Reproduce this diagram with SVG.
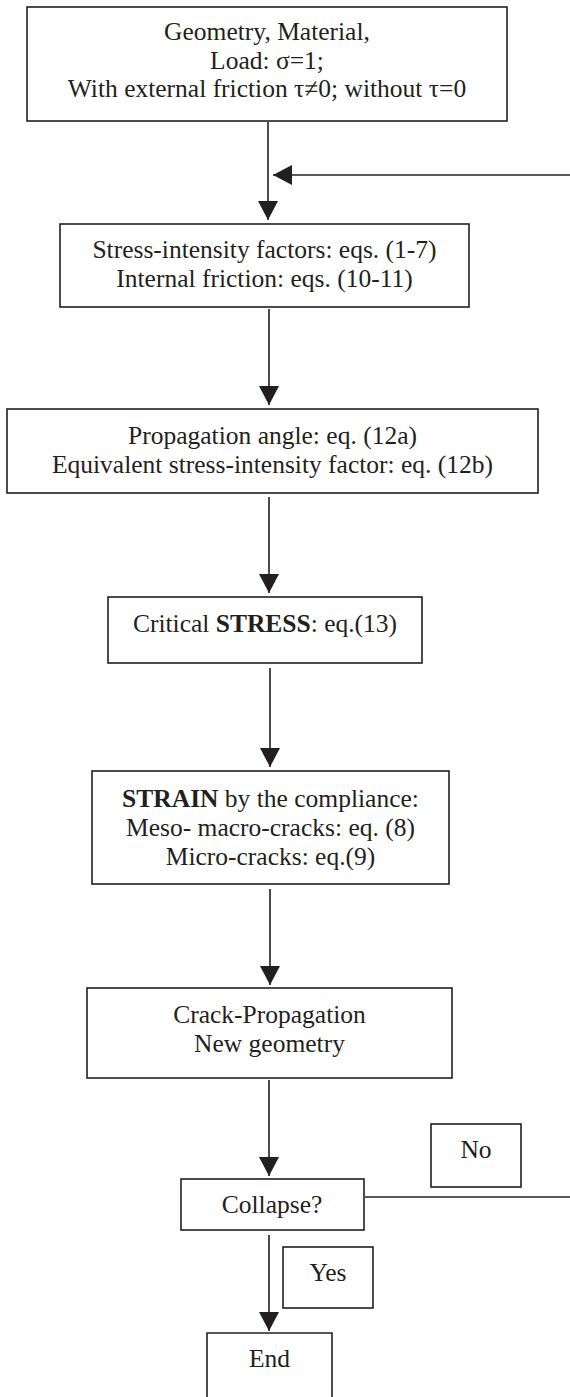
<svg xmlns="http://www.w3.org/2000/svg" width="570" height="1397" viewBox="0 0 570 1397">
<style>
.box{fill:#fff;stroke:#231f20;stroke-width:1.6}
.t{font-family:"Liberation Serif","Times New Roman",serif;font-size:25.5px;fill:#231f20;text-anchor:middle}
.b{font-weight:bold}
.ln{fill:none;stroke:#231f20;stroke-width:1.6}
</style>
<defs>
<marker id="ah" markerUnits="userSpaceOnUse" markerWidth="20" markerHeight="20" refX="19" refY="10" orient="auto">
<path d="M0,0 L19,10 L0,20 z" fill="#231f20"/>
</marker>
</defs>
<rect width="570" height="1397" fill="#fff"/>
<g id="connectors">
<path class="ln" d="M268,122 V220" marker-end="url(#ah)"/>
<path class="ln" d="M570,175 H273" marker-end="url(#ah)"/>
<path class="ln" d="M269,309 V405" marker-end="url(#ah)"/>
<path class="ln" d="M269,497 V593" marker-end="url(#ah)"/>
<path class="ln" d="M270,668 V767" marker-end="url(#ah)"/>
<path class="ln" d="M270,889 V985" marker-end="url(#ah)"/>
<path class="ln" d="M269,1080 V1176" marker-end="url(#ah)"/>
<path class="ln" d="M365,1197 H570"/>
<path class="ln" d="M269,1235 V1331" marker-end="url(#ah)"/>
</g>
<g id="n1">
<rect class="box" x="27" y="7" width="480" height="114"/>
<text class="t" x="267" y="40">Geometry, Material,</text>
<text class="t" x="267" y="68.5">Load: σ=1;</text>
<text class="t" x="267" y="97">With external friction τ≠0; without τ=0</text>
</g>
<g id="n2">
<rect class="box" x="60" y="224" width="409" height="83"/>
<text class="t" x="264.5" y="258">Stress-intensity factors: eqs. (1-7)</text>
<text class="t" x="264.5" y="287">Internal friction: eqs. (10-11)</text>
</g>
<g id="n3">
<rect class="box" x="7" y="409" width="531" height="84"/>
<text class="t" x="272.5" y="444">Propagation angle: eq. (12a)</text>
<text class="t" x="272.5" y="473">Equivalent stress-intensity factor: eq. (12b)</text>
</g>
<g id="n4">
<rect class="box" x="108" y="597" width="314" height="66"/>
<text class="t" x="265" y="632">Critical <tspan class="b">STRESS</tspan>: eq.(13)</text>
</g>
<g id="n5">
<rect class="box" x="92" y="771" width="357" height="113"/>
<text class="t" x="270.5" y="807">
<tspan class="b">STRAIN</tspan> by the compliance:</text>
<text class="t" x="270.5" y="836">Meso- macro-cracks: eq. (8)</text>
<text class="t" x="270.5" y="865">Micro-cracks: eq.(9)</text>
</g>
<g id="n6">
<rect class="box" x="87" y="988" width="365" height="90"/>
<text class="t" x="269.5" y="1023">Crack-Propagation</text>
<text class="t" x="269.5" y="1052">New geometry</text>
</g>
<g id="n7">
<rect class="box" x="181" y="1179" width="183" height="51"/>
<text class="t" x="272" y="1213">Collapse?</text>
</g>
<g id="n8">
<rect class="box" x="431" y="1124" width="90" height="63"/>
<text class="t" x="476" y="1158">No</text>
</g>
<g id="n9">
<rect class="box" x="283" y="1247" width="90" height="61"/>
<text class="t" x="328" y="1281">Yes</text>
</g>
<g id="n10">
<path class="box" d="M207,1400 V1333 H332 V1400"/>
<text class="t" x="269.5" y="1367">End</text>
</g>
</svg>
